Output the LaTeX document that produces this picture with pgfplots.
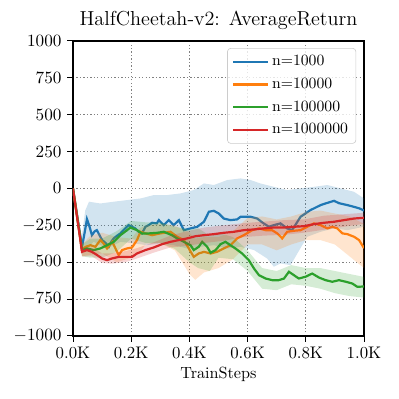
\documentclass[border=0pt]{standalone}
\usepackage{pgfplots}
\pgfplotsset{compat=1.18}

\definecolor{c0}{HTML}{1F77B4}
\definecolor{c1}{HTML}{FF7F0E}
\definecolor{c2}{HTML}{2CA02C}
\definecolor{c3}{HTML}{D62728}

\begin{document}
\begin{tikzpicture}
% fixed page frame so the axis sits where it does in the reference
\useasboundingbox (-46.5pt,-40.1pt) rectangle (207.7pt,214pt);
\begin{axis}[
  scale only axis,
  width=185.4pt,
  height=187.9pt,
  xmin=0, xmax=1000,
  ymin=-1000, ymax=1000,
  xtick={0,200,400,600,800,1000},
  xticklabels={0.0K,0.2K,0.4K,0.6K,0.8K,1.0K},
  ytick={-1000,-750,-500,-250,0,250,500,750,1000},
  yticklabel style={/pgf/number format/1000 sep={}},
  ticklabel style={font=\fontsize{10.7}{12}\selectfont},
  xlabel={TrainSteps},
  xlabel style={font=\fontsize{10.3}{12}\selectfont, yshift=2pt},
  title={HalfCheetah-v2: AverageReturn},
  title style={font=\fontsize{12.9}{15}\selectfont, yshift=-2.5pt},
  tick align=outside,
  xtick pos=left, ytick pos=left,
  major tick length=3.8pt,
  axis line style={line width=0.8pt},
  every tick/.style={black, line width=0.6pt},
  grid=major,
  grid style={gray, line width=0.6pt, dash pattern=on 0.8pt off 1.4pt},
  legend style={at={(0.973,0.976)}, anchor=north east, draw=black!20,
    rounded corners=2pt, fill=white, fill opacity=0.8, text opacity=1,
    font=\normalsize, inner xsep=3pt, inner ysep=2.5pt,
    row sep=2.3pt},
  legend cell align=left,
  legend image code/.code={\draw[#1] (0pt,0pt) -- (22pt,0pt);},
  every axis plot/.append style={line width=1.4pt},
]

% n=1000 band and mean
\addplot[fill=c0, fill opacity=0.2, draw=none, forget plot] coordinates {
  (0,0) (30,-330) (42,-150) (55,-90) (94,-102) (140,-90) (186,-79) (232,-68)
  (278,-45) (323,-45) (369,-34) (415,-11) (450,34) (484,23) (530,57) (576,68)
  (610,57) (644,34) (690,11) (736,-11) (782,0) (828,11) (874,23) (920,0)
  (966,-23) (1000,-68)
  (1000,-260) (943,-283) (897,-271) (851,-294) (805,-328) (771,-441) (748,-520)
  (713,-509) (690,-531) (667,-475) (622,-418) (576,-396) (530,-407) (484,-385)
  (438,-396) (392,-407) (346,-385) (300,-373) (255,-385) (209,-373) (163,-362)
  (117,-407) (71,-362) (37,-430) (20,-260)
};
\addplot[c0] coordinates {
  (0,0) (31,-396) (40,-300) (48,-208) (57,-260) (65,-317) (75,-290) (82,-283)
  (92,-320) (100,-350) (112,-370) (123,-396) (132,-360) (140,-339) (152,-320)
  (163,-305) (175,-280) (191,-249) (203,-260) (214,-271) (226,-294) (237,-305)
  (249,-260) (260,-249) (272,-233) (288,-237) (295,-215) (312,-249) (329,-215)
  (346,-249) (364,-215) (381,-283) (404,-271) (427,-260) (450,-226) (467,-158)
  (484,-152) (501,-170) (518,-204) (541,-215) (564,-210) (576,-192) (610,-192)
  (633,-204) (650,-230) (673,-260) (690,-249) (713,-237) (736,-271) (753,-283)
  (782,-192) (816,-147) (851,-113) (874,-98) (897,-84) (914,-100) (943,-113)
  (966,-125) (985,-136) (1000,-150)
};
\addlegendentry{n=1000}

% n=10000
\addplot[fill=c1, fill opacity=0.2, draw=none, forget plot] coordinates {
  (0,0) (31,-380) (60,-320) (100,-300) (150,-330) (200,-340) (230,-270)
  (250,-250) (300,-240) (350,-250) (400,-300) (420,-340) (450,-330) (500,-330)
  (550,-290) (600,-200) (650,-190) (700,-210) (750,-190) (800,-160) (850,-150)
  (900,-170) (950,-190) (1000,-240)
  (1000,-540) (950,-460) (900,-380) (850,-350) (800,-350) (750,-380) (700,-420)
  (650,-380) (600,-380) (550,-480) (500,-540) (450,-570) (420,-620) (400,-580)
  (350,-420) (300,-370) (250,-380) (230,-430) (200,-470) (150,-500) (100,-440)
  (60,-450) (31,-460)
};
\addplot[c1] coordinates {
  (0,0) (31,-418) (43,-396) (60,-385) (77,-396) (94,-350) (105,-373) (117,-407)
  (135,-362) (146,-407) (157,-452) (169,-418) (186,-407) (203,-400) (220,-350)
  (232,-294) (249,-305) (272,-317) (300,-305) (335,-294) (358,-328) (381,-350)
  (398,-407) (415,-464) (432,-441) (450,-430) (473,-441) (495,-430) (518,-407)
  (541,-385) (564,-339) (587,-317) (616,-283) (639,-271) (662,-283) (684,-283)
  (702,-305) (719,-339) (736,-294) (759,-287) (782,-283) (805,-260) (828,-237)
  (851,-249) (874,-271) (891,-260) (908,-271) (926,-305) (943,-310) (966,-328)
  (983,-350) (1000,-405)
};
\addlegendentry{n=10000}

% n=100000
\addplot[fill=c2, fill opacity=0.2, draw=none, forget plot] coordinates {
  (0,0) (31,-380) (60,-340) (100,-340) (150,-290) (200,-220) (250,-230)
  (300,-230) (350,-260) (400,-280) (430,-270) (470,-320) (500,-300) (550,-330)
  (600,-420) (650,-540) (700,-560) (750,-520) (800,-540) (850,-540) (900,-560)
  (950,-580) (1000,-600)
  (1000,-740) (950,-730) (900,-710) (850,-680) (800,-660) (750,-650) (700,-690)
  (650,-680) (600,-560) (550,-480) (500,-470) (470,-560) (430,-540) (400,-500)
  (350,-410) (300,-370) (250,-370) (200,-340) (150,-430) (100,-470) (60,-470)
  (31,-460)
};
\addplot[c2] coordinates {
  (0,0) (31,-418) (48,-407) (71,-418) (94,-407) (117,-385) (140,-362) (163,-317)
  (186,-283) (197,-265) (220,-283) (237,-305) (261,-305) (289,-301) (312,-294)
  (340,-317) (358,-339) (381,-362) (404,-385) (415,-418) (432,-396) (444,-362)
  (461,-396) (473,-436) (490,-418) (507,-378) (524,-362) (541,-385) (558,-407)
  (581,-441) (604,-486) (622,-543) (639,-588) (662,-611) (685,-622) (707,-622)
  (725,-611) (742,-565) (759,-588) (776,-611) (799,-599) (822,-577) (845,-604)
  (868,-622) (891,-633) (914,-622) (938,-633) (960,-645) (977,-667) (1000,-665)
};
\addlegendentry{n=100000}

% n=1000000
\addplot[fill=c3, fill opacity=0.2, draw=none, forget plot] coordinates {
  (0,0) (31,-400) (65,-400) (100,-440) (134,-440) (180,-425) (220,-405)
  (278,-365) (335,-320) (392,-290) (450,-265) (518,-250) (587,-235) (656,-225)
  (725,-215) (794,-210) (862,-185) (931,-175) (1000,-165)
  (1000,-240) (931,-260) (862,-280) (794,-300) (725,-315) (656,-320) (587,-330)
  (518,-355) (450,-370) (392,-390) (335,-400) (278,-435) (220,-475) (180,-500)
  (134,-510) (100,-505) (65,-460) (31,-460)
};
\addplot[c3] coordinates {
  (0,0) (31,-430) (48,-418) (65,-430) (83,-452) (100,-475) (117,-486) (134,-475)
  (157,-464) (180,-464) (203,-464) (220,-441) (249,-418) (278,-400) (306,-378)
  (335,-362) (364,-350) (392,-339) (421,-324) (450,-317) (484,-310) (518,-301)
  (553,-294) (587,-283) (622,-278) (656,-271) (690,-265) (725,-265) (759,-260)
  (794,-256) (828,-242) (862,-233) (897,-226) (931,-215) (966,-204) (1000,-199)
};
\addlegendentry{n=1000000}

\end{axis}
\end{tikzpicture}
\end{document}
